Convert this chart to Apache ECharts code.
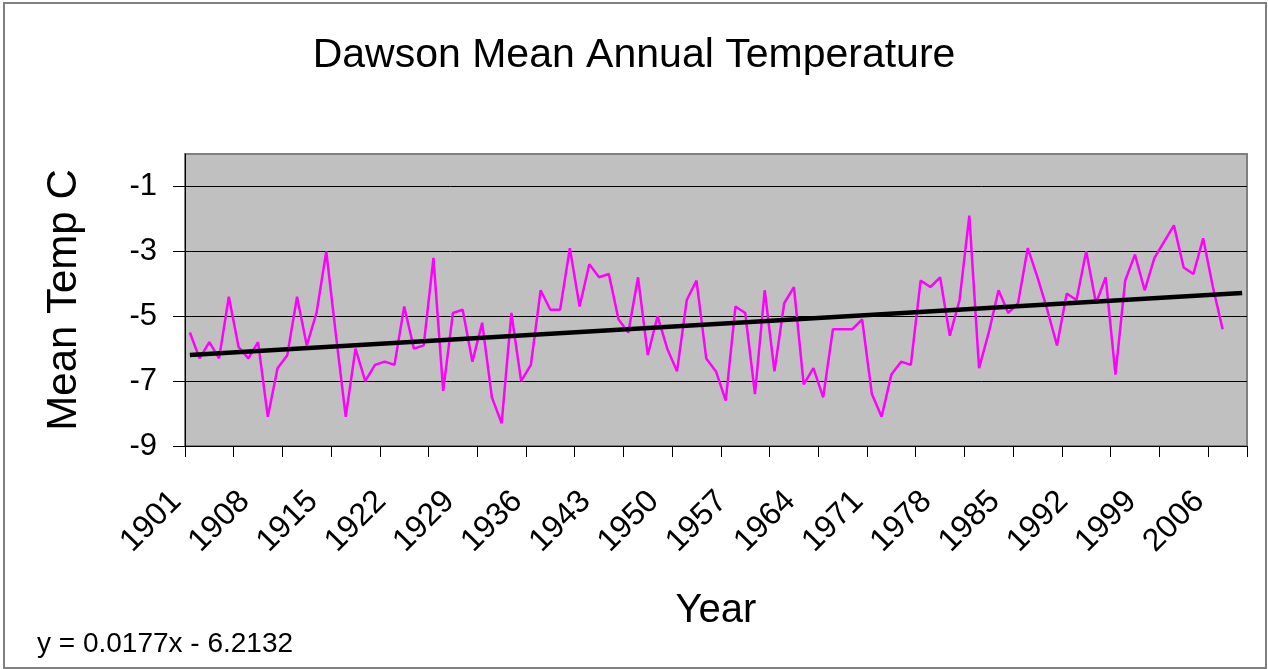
<!DOCTYPE html>
<html>
<head>
<meta charset="utf-8">
<script src="https://cdn.jsdelivr.net/npm/echarts@6/dist/echarts.min.js"></script>
<style>
html,body{margin:0;padding:0;background:#fff;}
#chart{width:1268px;height:669px;}
</style>
</head>
<body>
<div id="chart"></div>
<script>
// Categories (years on the category axis)
const years = [
  '1901','1902','1903','1904','1905','1906','1907','1908','1909','1910',
  '1911','1912','1913','1914','1915','1916','1917','1918','1919','1920',
  '1921','1922','1923','1924','1925','1926','1927','1928','1929','1930',
  '1931','1932','1933','1934','1935','1936','1937','1938','1939','1940',
  '1941','1942','1943','1944','1945','1946','1947','1948','1949','1950',
  '1951','1952','1953','1954','1955','1956','1957','1958','1959','1960',
  '1961','1962','1963','1964','1965','1966','1967','1968','1969','1970',
  '1971','1972','1973','1974','1975','1976','1977','1978','1979','1980',
  '1981','1982','1983','1984','1985','1986','1987','1988','1989','1990',
  '1991','1992','1993','1994','1995','1996','1997','1998','1999','2000',
  '2001','2002','2003','2004','2005','2006','2007','2008','2009'
];

// Mean annual temperature (°C), 1901-2007
const meanTemp = [
  -5.5, -6.3, -5.8, -6.3, -4.4, -5.95, -6.3, -5.8, -8.1, -6.6,
  -6.2, -4.4, -5.9, -4.9, -3.0, -5.6, -8.1, -6.0, -7.0, -6.5,
  -6.4, -6.5, -4.7, -6.0, -5.9, -3.2, -7.3, -4.9, -4.8, -6.4,
  -5.2, -7.5, -8.3, -4.9, -7.0, -6.5, -4.2, -4.8, -4.8, -2.9,
  -4.7, -3.4, -3.8, -3.7, -5.1, -5.5, -3.8, -6.2, -5.0, -6.0,
  -6.7, -4.5, -3.9, -6.3, -6.7, -7.6, -4.7, -4.9, -7.4, -4.2,
  -6.7, -4.6, -4.1, -7.1, -6.6, -7.5, -5.4, -5.4, -5.4, -5.1,
  -7.4, -8.1, -6.8, -6.4, -6.5, -3.9, -4.1, -3.8, -5.6, -4.5,
  -1.9, -6.6, -5.5, -4.2, -4.9, -4.6, -2.9, -3.8, -4.8, -5.9,
  -4.3, -4.5, -3.0, -4.6, -3.8, -6.8, -3.9, -3.1, -4.2, -3.2,
  -2.7, -2.2, -3.5, -3.7, -2.6, -4.1, -5.4
];

// Trendline as printed on the chart: y = 0.0177x - 6.2132 (x = 1 .. number of categories)
const trendSlope = [0.0177];
const trendIntercept = [-6.2132];

// Y tick labels
const yTicks = [-9, -7, -5, -3, -1];

const FONT = '"Liberation Sans", Arial, sans-serif';

const nCat = years.length;
const trendData = [
  [years[0], trendSlope[0] * 1 + trendIntercept[0]],
  [years[nCat - 1], trendSlope[0] * nCat + trendIntercept[0]]
];

const chart = echarts.init(document.getElementById('chart'), null, {renderer: 'canvas'});
chart.setOption({
  animation: false,
  backgroundColor: '#ffffff',
  textStyle: {fontFamily: FONT},
  title: {
    text: 'Dawson Mean Annual Temperature',
    left: 'center',
    top: 30,
    textStyle: {fontFamily: FONT, fontSize: 41, fontWeight: 'normal', color: '#000'}
  },
  grid: {
    left: 185, right: 21, top: 154, bottom: 223,
    show: true,
    backgroundColor: '#C0C0C0',
    borderColor: '#808080',
    borderWidth: 2
  },
  xAxis: {
    type: 'category',
    data: years,
    boundaryGap: true,
    name: 'Year',
    nameLocation: 'middle',
    nameGap: 145,
    nameTextStyle: {fontFamily: FONT, fontSize: 40, color: '#000'},
    axisLine: {show: true, onZero: false, lineStyle: {color: '#000', width: 1}},
    axisTick: {show: true, interval: 4, alignWithLabel: false, length: 11, lineStyle: {color: '#000'}},
    axisLabel: {interval: 6, rotate: 45, fontFamily: FONT, fontSize: 32, color: '#000', margin: 37, padding: [0, 19, 0, 0]},
    splitLine: {show: false}
  },
  yAxis: {
    type: 'value',
    min: -9,
    max: 0,
    name: 'Mean Temp C',
    nameLocation: 'middle',
    nameGap: 100,
    nameTextStyle: {fontFamily: FONT, fontSize: 42, color: '#000'},
    axisLine: {show: true, onZero: false, lineStyle: {color: '#000', width: 1}},
    axisTick: {show: true, length: 12, customValues: yTicks, lineStyle: {color: '#000'}},
    axisLabel: {customValues: yTicks, fontFamily: FONT, fontSize: 31, color: '#000', margin: 28},
    splitLine: {show: true, lineStyle: {color: '#000', width: 1}}
  },
  series: [
    {
      name: 'Mean Temp',
      type: 'line',
      data: meanTemp,
      symbol: 'none',
      lineStyle: {color: '#FF00FF', width: 2.5},
      itemStyle: {color: '#FF00FF'},
      z: 3
    },
    {
      name: 'Trend',
      type: 'line',
      data: trendData,
      symbol: 'none',
      lineStyle: {color: '#000', width: 4.5},
      z: 4
    }
  ],
  graphic: [
    {
      type: 'rect',
      shape: {x: 4, y: 3, width: 1262, height: 665},
      style: {fill: 'none', stroke: '#808080', lineWidth: 2},
      silent: true,
      z: 100
    },
    {
      type: 'text',
      left: 37,
      top: 630,
      style: {text: 'y = 0.0177x - 6.2132', font: '28px ' + FONT, fill: '#000'}
    }
  ]
});
</script>
</body>
</html>
